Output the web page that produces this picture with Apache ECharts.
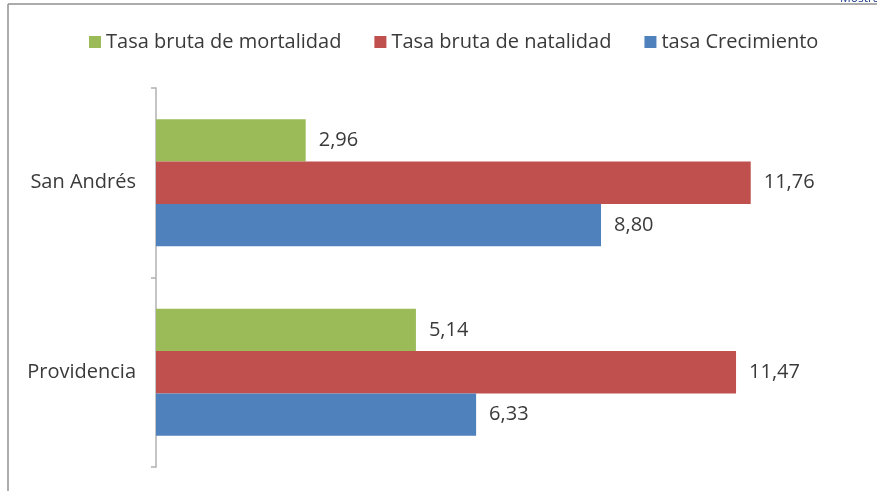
<!DOCTYPE html>
<html>
<head>
<meta charset="utf-8">
<script src="https://cdn.jsdelivr.net/npm/echarts@6/dist/echarts.min.js"></script>
<style>
  html, body { margin: 0; padding: 0; background: #fff; }
  #main { width: 877px; height: 491px; }
</style>
</head>
<body>
<div id="main"></div>
<script>
var categories = ['San Andrés', 'Providencia'];
var mortalidad = [2.96, 5.14];
var natalidad = [11.76, 11.47];
var crecimiento = [8.80, 6.33];

var seriesNames = ['Tasa bruta de mortalidad', 'Tasa bruta de natalidad', 'tasa Crecimiento'];
var seriesColors = ['#9BBB59', '#C0504D', '#4F81BD'];
var seriesData = [mortalidad, natalidad, crecimiento];

var textColor = '#3a3a3a';
var fontFamily = '"Open Sans", sans-serif';

function fmt(p) {
  return p.value.toFixed(2).replace('.', ',');
}

var chart = echarts.init(document.getElementById('main'));

chart.setOption({
  backgroundColor: '#fff',
  animation: false,
  textStyle: { fontFamily: fontFamily },
  legend: {
    left: 84,
    top: 27,
    itemWidth: 12,
    itemHeight: 12,
    itemGap: 33,
    icon: 'rect',
    textStyle: { color: textColor, fontSize: 20, fontFamily: fontFamily },
    data: seriesNames
  },
  grid: { left: 156, right: 13, top: 88, bottom: 24, containLabel: false },
  xAxis: {
    type: 'value',
    min: 0,
    max: 14,
    show: false
  },
  yAxis: {
    type: 'category',
    data: categories,
    inverse: true,
    axisLine: { show: true, lineStyle: { color: '#b0b0b0', width: 1.5 } },
    axisTick: { show: true, length: 5, inside: false, lineStyle: { color: '#b0b0b0', width: 1.5 } },
    axisLabel: { color: textColor, fontSize: 20, margin: 20, fontFamily: fontFamily }
  },
  graphic: [
    { type: 'line', shape: { x1: 8, y1: 4, x2: 8, y2: 500 }, style: { stroke: '#909090', lineWidth: 1.5 } },
    { type: 'line', shape: { x1: 8, y1: 4, x2: 880, y2: 4 }, style: { stroke: '#909090', lineWidth: 1.5 } },
    { type: 'text', left: 840, top: -7, style: { text: 'Mostrar', fill: '#1f3f8f', fontSize: 12, fontFamily: fontFamily } }
  ],
  series: seriesNames.map(function (name, i) {
    return {
      name: name,
      type: 'bar',
      data: seriesData[i],
      barGap: 0,
      barCategoryGap: '33%',
      itemStyle: { color: seriesColors[i] },
      label: {
        show: true,
        position: 'right',
        distance: 13,
        color: textColor,
        fontSize: 20,
        fontFamily: fontFamily,
        formatter: fmt
      }
    };
  })
});
</script>
</body>
</html>
